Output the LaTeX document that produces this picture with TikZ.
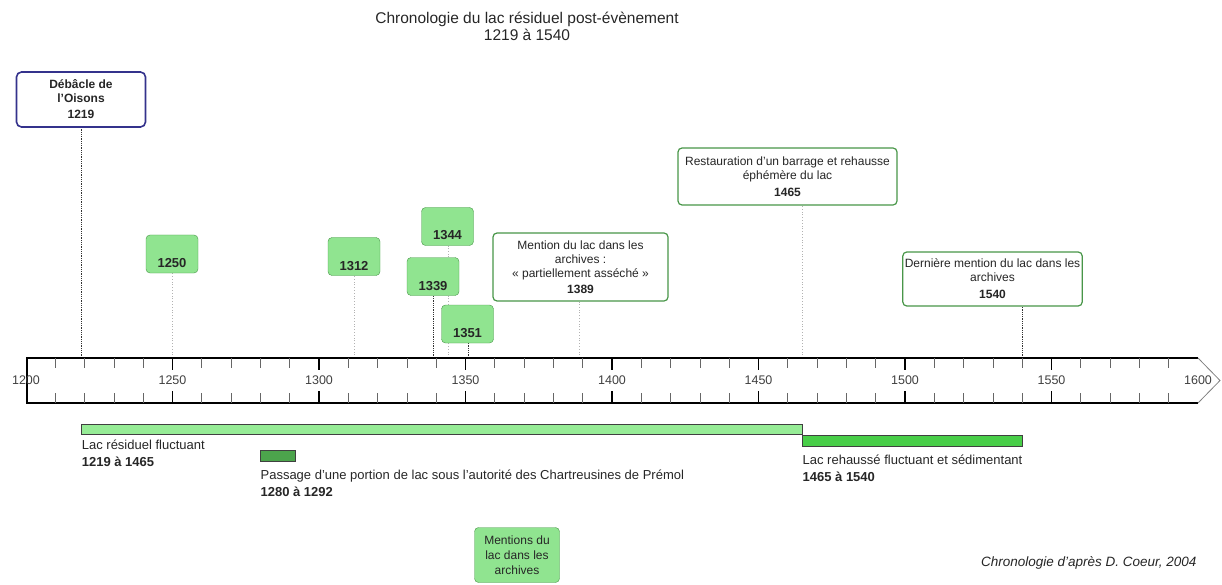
\documentclass[tikz,border=0pt]{standalone}
\usepackage{fontspec}
\setmainfont{Liberation Sans}
\usetikzlibrary{positioning,backgrounds}
\definecolor{boxgreen}{RGB}{144,228,144}
\definecolor{edgegreen}{RGB}{72,150,72}
\definecolor{bargreen}{RGB}{150,236,150}
\definecolor{darkbar}{RGB}{76,164,76}
\definecolor{midbar}{RGB}{72,206,72}
\definecolor{eventblue}{RGB}{52,50,140}
\tikzset{
  yearbox/.style={draw=edgegreen, rounded corners=4pt, fill=boxgreen, minimum width=52pt, minimum height=38pt, text height=28pt, text depth=1pt, inner sep=2pt, font=\fontsize{13}{14}\selectfont\bfseries},
  notebox/.style={draw=edgegreen, line width=1.2pt, rounded corners=4pt, fill=white, align=center, inner sep=2pt, font=\fontsize{12}{14}\selectfont},
  eventbox/.style={draw=eventblue, line width=1.6pt, rounded corners=5pt, fill=white, align=center, inner sep=2pt, font=\fontsize{12}{14}\selectfont\bfseries},
  legendbox/.style={draw=edgegreen, rounded corners=4pt, fill=boxgreen, align=center, inner sep=2pt, font=\fontsize{12}{15}\selectfont},
  guide/.style={gray!60, dotted, line width=0.8pt},
  darkguide/.style={black!80, densely dotted, line width=0.8pt},
  periodbar/.style={draw=black!75, line width=0.6pt, inner sep=0pt, outer sep=0pt, anchor=north west},
  barlabel/.style={inner sep=0pt, align=left, font=\fontsize{13}{17}\selectfont},
  yearlabel/.style={font=\fontsize{12.5}{14}\selectfont, text=black!75}
}
\newcommand{\yrx}[1]{(#1-1200)*2.93+26}

\begin{document}
\begin{tikzpicture}[x=1pt, y=-1pt, every node/.style={text=black!85}]
\useasboundingbox (0,0) rectangle (1222,585);

\node[font=\fontsize{15.5}{17}\selectfont, align=center] (title) at (527,26) {Chronologie du lac résiduel post-évènement\\1219 à 1540};

% axis
\draw[line width=1.6pt] (1198,358) -- (27,358) -- (27,403) -- (1198,403);
\draw[gray, line width=0.8pt] (1198,358) -- (1220,380.5) -- (1198,403);
\foreach \y in {1210,1220,...,1590} {
  \draw[black!60, line width=0.7pt] ({\yrx{\y}},358) -- ++(0,10) ({\yrx{\y}},403) -- ++(0,-10);
}
\foreach \y in {1250,1300,...,1550} {
  \draw[line width=1.3pt] ({\yrx{\y}},358) -- ++(0,12) ({\yrx{\y}},403) -- ++(0,-12);
}
\foreach \y in {1200,1250,...,1600}
  \node[yearlabel] (lab\y) at ({\yrx{\y}},380) {\y};
\foreach \y in {1219,1250,1312,1339,1344,1351,1389,1465,1540}
  \coordinate (t\y) at ({\yrx{\y}},358);

% events
\node[eventbox, minimum width=129pt, minimum height=55pt] (e1219) at (81,99.5) {Débâcle de\\l'Oisons\\[2pt]1219};
\node[yearbox] (m1250) at (172,254) {1250};
\node[yearbox] (m1312) at (354,256.5) {1312};
\node[yearbox] (m1344) at (447.5,226.5) {1344};
\node[yearbox] (m1339) at (433,276.5) {1339};
\node[yearbox] (m1351) at (467.5,324) {1351};
\node[notebox, minimum width=175pt, minimum height=68pt] (m1389) at (580.5,267) {Mention du lac dans les\\archives :\\« partiellement asséché »\\[2pt]\textbf{1389}};
\node[notebox, minimum width=219pt, minimum height=57pt] (m1465) at (787.5,176.5) {Restauration d'un barrage et rehausse\\éphémère du lac\\[3pt]\textbf{1465}};
\node[notebox, minimum width=175pt, minimum height=54pt] (m1540) at (992.5,279) {Dernière mention du lac dans les\\archives\\[3pt]\textbf{1540}};

\begin{scope}[on background layer]
  \draw[darkguide] (t1219) -- (t1219 |- e1219.south);
  \draw[guide] (t1250) -- (t1250 |- m1250.south);
  \draw[guide] (t1312) -- (t1312 |- m1312.south);
  \draw[guide] (t1344) -- (t1344 |- m1344.south);
  \draw[darkguide] (t1339) -- (t1339 |- m1339.south);
  \draw[darkguide] (t1351) -- (t1351 |- m1351.south);
  \draw[guide] (t1389) -- (t1389 |- m1389.south);
  \draw[guide] (t1465) -- (t1465 |- m1465.south);
  \draw[darkguide] (t1540) -- (t1540 |- m1540.south);
\end{scope}

% periods
\pgfmathsetmacro{\wa}{(1465-1219)*2.93}
\pgfmathsetmacro{\wb}{(1292-1280)*2.93}
\pgfmathsetmacro{\wc}{(1540-1465)*2.93}
\node[periodbar, fill=bargreen, minimum width=\wa pt, minimum height=10pt] (p1) at ({\yrx{1219}},424) {};
\node[periodbar, fill=darkbar, minimum width=\wb pt, minimum height=11pt] (p2) at ({\yrx{1280}},450) {};
\node[periodbar, fill=midbar, minimum width=\wc pt, minimum height=11pt] (p3) at ({\yrx{1465}},435) {};
\node[barlabel, below right=6pt and 0pt of p1.south west] (l1) {Lac résiduel fluctuant\\\textbf{1219 à 1465}};
\node[barlabel, below right=9pt and 0pt of p2.south west] (l2) {Passage d'une portion de lac sous l'autorité des Chartreusines de Prémol\\\textbf{1280 à 1292}};
\node[barlabel, below right=9pt and 0pt of p3.south west] (l3) {Lac rehaussé fluctuant et sédimentant\\\textbf{1465 à 1540}};

\node[legendbox, minimum width=85pt, minimum height=55pt] (legend) at (517,555) {Mentions du\\lac dans les\\archives};
\node[font=\fontsize{13.5}{15}\selectfont\itshape, anchor=east] (credit) at (1200,563) {Chronologie d'après D. Coeur, 2004};
\end{tikzpicture}
\end{document}
